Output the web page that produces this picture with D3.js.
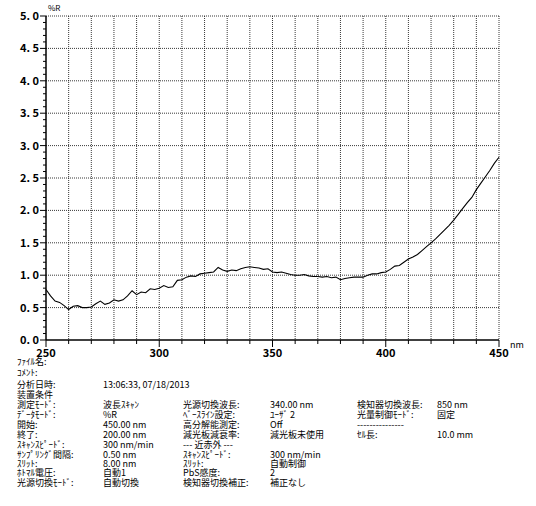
<!DOCTYPE html>
<html><head><meta charset="utf-8">
<script src="https://cdn.jsdelivr.net/npm/d3@7"></script>
<style>body{margin:0;background:#fff}text{font-family:"Noto Sans CJK JP",sans-serif}</style>
</head><body><svg id="c" width="536" height="506"></svg>
<script>
var wavelength = [250,252,254,256,258,260,262,264,266,268,270,272,274,276,278,280,282,284,286,288,290,292,294,296,298,300,302,304,306,308,310,312,314,316,318,320,322,324,326,328,330,332,334,336,338,340,342,344,346,348,350,352,354,356,358,360,362,364,366,368,370,372,374,376,378,380,382,384,386,388,390,392,394,396,398,400,402,404,406,408,410,412,414,416,418,420,422,424,426,428,430,432,434,436,438,440,442,444,446,448,450];
var reflect = [0.78,0.68,0.60,0.58,0.53,0.47,0.52,0.53,0.50,0.50,0.51,0.56,0.60,0.55,0.57,0.62,0.60,0.62,0.68,0.76,0.70,0.74,0.73,0.79,0.78,0.80,0.84,0.81,0.82,0.92,0.93,0.97,0.99,0.98,1.02,1.03,1.04,1.05,1.12,1.08,1.06,1.08,1.07,1.10,1.12,1.13,1.12,1.11,1.09,1.10,1.05,1.04,1.05,1.03,1.01,1.00,1.00,1.01,0.99,0.98,0.98,0.97,0.98,0.96,0.97,0.93,0.95,0.96,0.97,0.97,0.97,1.00,1.02,1.02,1.04,1.05,1.09,1.14,1.15,1.20,1.25,1.28,1.32,1.38,1.44,1.50,1.56,1.63,1.70,1.77,1.85,1.94,2.03,2.12,2.20,2.32,2.42,2.52,2.62,2.73,2.82];
var xTickLabels = [250,300,350,400,450];
var yTickLabels = ["0.0","0.5","1.0","1.5","2.0","2.5","3.0","3.5","4.0","4.5","5.0"];
var infoRows = [
  ["ﾌｧｲﾙ名:"],
  ["ｺﾒﾝﾄ:"],
  ["分析日時:", "13:06:33, 07/18/2013"],
  ["装置条件"],
  ["測定ﾓｰﾄﾞ:", "波長ｽｷｬﾝ", "光源切換波長:", "340.00 nm", "検知器切換波長:", "850 nm"],
  ["ﾃﾞｰﾀﾓｰﾄﾞ:", "%R", "ﾍﾞｰｽﾗｲﾝ設定:", "ﾕｰｻﾞ 2", "光量制御ﾓｰﾄﾞ:", "固定"],
  ["開始:", "450.00 nm", "高分解能測定:", "Off", "---------------", ""],
  ["終了:", "200.00 nm", "減光板減衰率:", "減光板未使用", "ｾﾙ長:", "10.0 mm"],
  ["ｽｷｬﾝｽﾋﾟｰﾄﾞ:", "300 nm/min", "--- 近赤外 ---"],
  ["ｻﾝﾌﾟﾘﾝｸﾞ間隔:", "0.50 nm", "ｽｷｬﾝｽﾋﾟｰﾄﾞ:", "300 nm/min"],
  ["ｽﾘｯﾄ:", "8.00 nm", "ｽﾘｯﾄ:", "自動制御"],
  ["ﾎﾄﾏﾙ電圧:", "自動1", "PbS感度:", "2"],
  ["光源切換ﾓｰﾄﾞ:", "自動切換", "検知器切換補正:", "補正なし"]
];
var infoRowY = [362,373,385,395,405,415,425,435,445,455,464,473,483];
var infoColX = [17,103,183,270,357,437];

var svg = d3.select("#c");
var L = 46, R = 499, T = 16, B = 340;
var x = d3.scaleLinear().domain([250,450]).range([L,R]);
var y = d3.scaleLinear().domain([0,5]).range([B,T]);

var grid = svg.append("g").attr("stroke","#222").attr("stroke-width",0.9).attr("stroke-dasharray","1,1");
grid.selectAll(".vg").data(d3.range(260,451,10)).enter().append("line")
  .attr("x1",x).attr("x2",x).attr("y1",T).attr("y2",B);
grid.selectAll(".hg").data(d3.range(0.5,5.01,0.5)).enter().append("line")
  .attr("x1",L).attr("x2",R).attr("y1",y).attr("y2",y);

var ax = svg.append("g").attr("stroke","#000");
ax.append("line").attr("x1",L).attr("x2",L).attr("y1",T).attr("y2",B).attr("stroke-width",1.5);
ax.append("line").attr("x1",L).attr("x2",R).attr("y1",B).attr("y2",B).attr("stroke-width",1.5);
ax.selectAll(".ym").data(d3.range(0,5.001,0.1)).enter().append("line")
  .attr("x1",function(d,i){return i%5==0?L-6:L-3;}).attr("x2",L).attr("y1",y).attr("y2",y);
ax.selectAll(".xm").data(d3.range(250,451,10)).enter().append("line")
  .attr("x1",x).attr("x2",x).attr("y1",B).attr("y2",function(d){return d%50==0?B+7:B+4;});

svg.selectAll(".yl").data(yTickLabels).enter().append("text")
  .attr("x",L-7).attr("y",function(d){return y(+d)+4;}).attr("text-anchor","end")
  .attr("font-size",11).attr("font-weight","bold").text(function(d){return d.replace(".",". ");});
svg.selectAll(".xl").data(xTickLabels).enter().append("text")
  .attr("x",x).attr("y",B+17).attr("text-anchor","middle")
  .attr("font-size",11).attr("font-weight","bold").text(function(d){return d;});
svg.append("text").attr("x",L+2).attr("y",T-5).attr("font-size",8).text("%R");
svg.append("text").attr("x",R+11).attr("y",B+8).attr("font-size",9).text("nm");

var line = d3.line().x(function(d,i){return x(wavelength[i]);}).y(function(d){return y(d);});
svg.append("path").attr("d",line(reflect)).attr("fill","none").attr("stroke","#000").attr("stroke-width",1.1);

var info = svg.append("g").attr("font-size",9);
infoRows.forEach(function(row,r){
  row.forEach(function(t,c){
    info.append("text").attr("x",infoColX[c]).attr("y",infoRowY[r]+3).text(t);
  });
});
</script></body></html>
